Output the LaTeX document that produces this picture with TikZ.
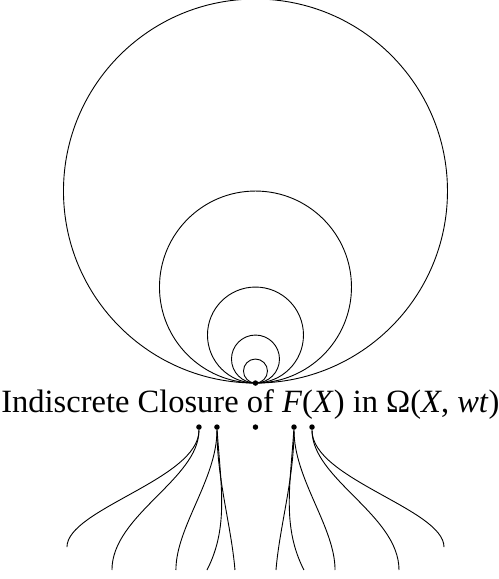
\documentclass[tikz,border=0pt]{standalone}
\usepackage{fontspec}
\setmainfont{Liberation Serif}
\tikzset{
    vertex/.style={circle, fill, inner sep=0pt, minimum size=5.5pt},
    closurelabel/.style={font=\fontsize{32.5}{39}\selectfont, anchor=base, inner sep=0pt}
}
\begin{document}
\begin{tikzpicture}[scale=0.4218, line width=0.9pt]
    \useasboundingbox (-21.29,-16.33) rectangle (20.29,31.92);

    % Draw the nested circles
    \foreach \r in {1,2,4,8,16}
        \draw (0,\r) circle (\r);
    \node[vertex] (top) at (0,0) {};

    % Add the label
    \node[closurelabel] (closure) at (-0.42,-2.42)
        {Indiscrete Closure of \textit{F}(\textit{X}) in Ω(\textit{X}, \textit{wt})};

    % Add the points below
    \node[vertex] (mid) at (0,-3.67) {};
    \foreach \s/\n in {1/l,-1/r} {
        \begin{scope}[xscale=\s]
            \node[vertex] (\n a) at (-4.71,-3.67) {};
            \node[vertex] (\n b) at (-3.21,-3.67) {};
            \coordinate (\n a1) at (-15.71,-13.67);
            \coordinate (\n a2) at (-11.96,-15.58);
            \coordinate (\n b1) at (-6.63,-15.58);
            \coordinate (\n b2) at (-4.04,-15.58);
            \coordinate (\n b3) at (-1.71,-15.58);

            % Add the strands
            \draw (\n a) .. controls (-4.71,-8) and (-15.71,-10.5) .. (\n a1);
            \draw (\n a) .. controls (-4.71,-8) and (-11.96,-11) .. (\n a2);
            \draw (\n b) .. controls (-3.21,-8) and (-6.63,-12) .. (\n b1);
            \draw (\n b) .. controls (-2.9,-8.5) and (-2.2,-12) .. (\n b2);
            \draw (\n b) .. controls (-3.21,-8) and (-2.0,-12) .. (\n b3);
        \end{scope}
    }
\end{tikzpicture}
\end{document}
